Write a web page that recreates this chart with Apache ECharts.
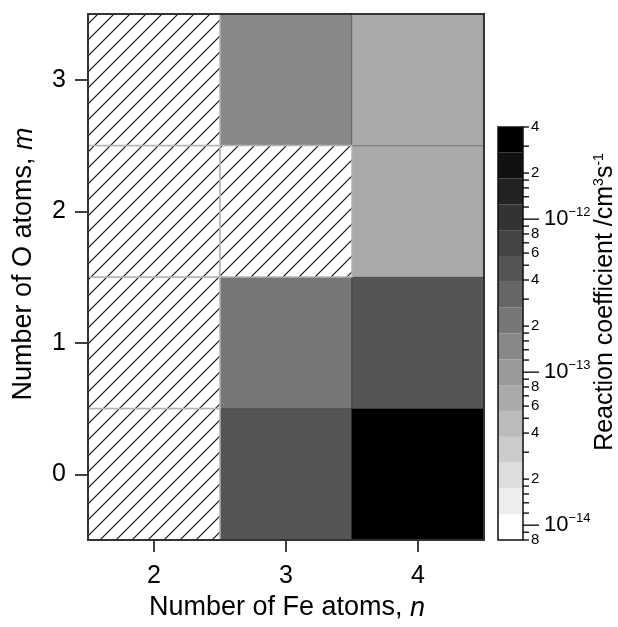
<!DOCTYPE html>
<html><head><meta charset="utf-8">
<script src="https://cdn.jsdelivr.net/npm/echarts@6/dist/echarts.min.js"></script>
<style>html,body{margin:0;padding:0;background:#fff}#c{width:618px;height:627px}</style>
</head><body><div id="c"></div>
<script>
// ---- data ----
const feAtoms = ['2', '3', '4'];          // n
const oAtoms = ['0', '1', '2', '3'];      // m
// reaction coefficient (cm^3 s^-1) for m = 0,1,2,3 ; null = no data (hatched)
const coefFe2 = [null, null, null, null];
const coefFe3 = [4.8e-13, 2.2e-13, null, 1.5e-13];
const coefFe4 = [3.5e-12, 4.8e-13, 7.0e-14, 7.0e-14];

// colour-bar bands (log scale, 16 discrete grey levels)
const cbBandEdges = [8e-15, 1.18e-14, 1.74e-14, 2.57e-14, 3.78e-14, 5.58e-14, 8.23e-14,
  1.21e-13, 1.79e-13, 2.64e-13, 3.89e-13, 5.74e-13, 8.47e-13, 1.25e-12, 1.84e-12, 2.72e-12, 4e-12];
const cbBandColors = ['#ffffff', '#eeeeee', '#dddddd', '#cccccc', '#bbbbbb', '#aaaaaa', '#999999', '#888888',
  '#777777', '#666666', '#555555', '#444444', '#333333', '#222222', '#111111', '#000000'];
const cbMajorTicks = [1e-14, 1e-13, 1e-12];
const cbMajorExps = ['\u221214', '\u221213', '\u221212'];
const cbLabeledTicks = [8e-15, 2e-14, 4e-14, 6e-14, 8e-14, 2e-13, 4e-13, 6e-13, 8e-13, 2e-12, 4e-12];
const cbLabeledText = ['8', '2', '4', '6', '8', '2', '4', '6', '8', '2', '4'];
const cbMinorTicks = [9e-15, 1.2e-14, 1.4e-14, 1.6e-14, 1.8e-14, 3e-14, 5e-14, 7e-14, 9e-14,
  1.2e-13, 1.4e-13, 1.6e-13, 1.8e-13, 3e-13, 5e-13, 7e-13, 9e-13,
  1.2e-12, 1.4e-12, 1.6e-12, 1.8e-12, 3e-12];

// ---- build ----
const FONT = 'Liberation Sans, Arial, sans-serif';
const cols = [coefFe2, coefFe3, coefFe4];
const heatData = [], hatchData = [];
cols.forEach((arr, i) => arr.forEach((v, j) => {
  if (v == null) hatchData.push([i, j]); else heatData.push([i, j, v]);
}));

const pc = document.createElement('canvas');
pc.width = 16; pc.height = 16;
const g = pc.getContext('2d');
g.fillStyle = '#fff'; g.fillRect(0, 0, 16, 16);
g.strokeStyle = '#111'; g.lineWidth = 1.2;
g.beginPath();
g.moveTo(0, 16); g.lineTo(16, 0);
g.moveTo(-4, 4); g.lineTo(4, -4);
g.moveTo(12, 20); g.lineTo(20, 12);
g.stroke();
const hatch = { image: pc, repeat: 'repeat' };

const pieces = cbBandColors.map((c, i) => ({ gte: cbBandEdges[i], lt: cbBandEdges[i + 1], color: c }));
pieces[pieces.length - 1].lte = cbBandEdges[cbBandEdges.length - 1];
delete pieces[pieces.length - 1].lt;

const bandData = cbBandColors.map((c, i) => [0, cbBandEdges[i], cbBandEdges[i + 1], i]);
const tickData = [];
cbMajorTicks.forEach((v, i) => tickData.push([1, v, 2, i]));
cbLabeledTicks.forEach((v, i) => tickData.push([1, v, 1, i]));
cbMinorTicks.forEach((v, i) => tickData.push([1, v, 0, i]));

const chart = echarts.init(document.getElementById('c'), null, { renderer: 'canvas' });
chart.setOption({
  animation: false,
  backgroundColor: '#fff',
  grid: [
    { left: 88, top: 14, width: 396, height: 526, show: true, z: 5, borderColor: '#333', borderWidth: 2, backgroundColor: 'transparent' },
    { left: 498, top: 127, width: 25, height: 413, show: true, z: 5, borderColor: '#111', borderWidth: 1.5, backgroundColor: 'transparent' }
  ],
  xAxis: [
    { type: 'category', gridIndex: 0, data: feAtoms,
      axisLine: { show: true, lineStyle: { color: '#333', width: 2 } },
      axisTick: { show: true, alignWithLabel: true, length: 12, lineStyle: { color: '#000', width: 1.5 } },
      axisLabel: { fontSize: 25, color: '#000', fontFamily: FONT, margin: 24 },
      splitLine: { show: false } },
    { type: 'value', gridIndex: 1, min: 0, max: 1, show: false }
  ],
  yAxis: [
    { type: 'category', gridIndex: 0, data: oAtoms,
      axisLine: { show: true, lineStyle: { color: '#333', width: 2 } },
      axisTick: { show: true, alignWithLabel: true, length: 13, lineStyle: { color: '#000', width: 1.5 } },
      axisLabel: { fontSize: 25, color: '#000', fontFamily: FONT, margin: 22 },
      splitLine: { show: false } },
    { type: 'log', gridIndex: 1, logBase: 10, min: cbBandEdges[0], max: cbBandEdges[cbBandEdges.length - 1], show: false }
  ],
  visualMap: { type: 'piecewise', show: false, seriesIndex: 0, dimension: 2, pieces: pieces },
  series: [
    { type: 'heatmap', xAxisIndex: 0, yAxisIndex: 0, data: heatData,
      itemStyle: { borderColor: 'rgba(0,0,0,0.3)', borderWidth: 1 } },
    { type: 'custom', xAxisIndex: 0, yAxisIndex: 0, data: hatchData,
      renderItem: function (params, api) {
        const c = api.coord([api.value(0), api.value(1)]);
        const s = api.size([1, 1]);
        return { type: 'rect', shape: { x: c[0] - s[0] / 2, y: c[1] - s[1] / 2, width: s[0], height: s[1] },
          style: { fill: hatch, stroke: '#b5b5b5', lineWidth: 1.5 } };
      } },
    { type: 'custom', xAxisIndex: 1, yAxisIndex: 1, data: bandData, encode: { x: 0, y: [1, 2] },
      renderItem: function (params, api) {
        const p1 = api.coord([0, api.value(1)]);
        const p2 = api.coord([1, api.value(2)]);
        return { type: 'rect', shape: { x: p1[0], y: p2[1], width: p2[0] - p1[0], height: p1[1] - p2[1] },
          style: { fill: cbBandColors[api.value(3)] } };
      } },
    { type: 'custom', xAxisIndex: 1, yAxisIndex: 1, data: tickData, encode: { x: 0, y: 1 }, z: 10,
      renderItem: function (params, api) {
        const p = api.coord([1, api.value(1)]);
        const kind = api.value(2), idx = api.value(3);
        const x0 = p[0], y0 = p[1];
        const len = kind === 2 ? 16 : 6;
        const children = [{ type: 'line', shape: { x1: x0, y1: y0, x2: x0 + len, y2: y0 },
          style: { stroke: '#000', lineWidth: 1.3 } }];
        if (kind === 2) {
          children.push({ type: 'text', x: x0 + 21, y: y0, style: {
            text: '{b|10}{s|' + cbMajorExps[idx] + '}', align: 'left', verticalAlign: 'middle',
            rich: { b: { fontSize: 22, fontFamily: FONT, fill: '#000', lineHeight: 26 },
                    s: { fontSize: 13, fontFamily: FONT, fill: '#000', verticalAlign: 'top', lineHeight: 26 } } } });
        } else if (kind === 1) {
          children.push({ type: 'text', x: x0 + 8, y: y0, style: {
            text: cbLabeledText[idx], fontSize: 15, fontFamily: FONT, fill: '#000', align: 'left', verticalAlign: 'middle' } });
        }
        return { type: 'group', children: children };
      } }
  ],
  graphic: [
    { type: 'text', x: 287, y: 608, z: 20, style: {
      text: 'Number of Fe atoms, {i|n}', fontSize: 27, fontFamily: FONT, fill: '#000',
      align: 'center', verticalAlign: 'middle',
      rich: { i: { fontSize: 27, fontFamily: FONT, fontStyle: 'italic', fill: '#000' } } } },
    { type: 'text', x: 24, y: 264, rotation: Math.PI / 2, z: 20, style: {
      text: 'Number of O atoms, {i|m}', fontSize: 27, fontFamily: FONT, fill: '#000',
      align: 'center', verticalAlign: 'middle',
      rich: { i: { fontSize: 27, fontFamily: FONT, fontStyle: 'italic', fill: '#000' } } } },
    { type: 'text', x: 605, y: 302, rotation: Math.PI / 2, z: 20, style: {
      text: 'Reaction coefficient /cm{s|3}s{s|-1}', fontSize: 25, fontFamily: FONT, fill: '#000',
      align: 'center', verticalAlign: 'middle',
      rich: { s: { fontSize: 14, fontFamily: FONT, fill: '#000', verticalAlign: 'top', lineHeight: 26 } } } }
  ]
});
</script></body></html>
